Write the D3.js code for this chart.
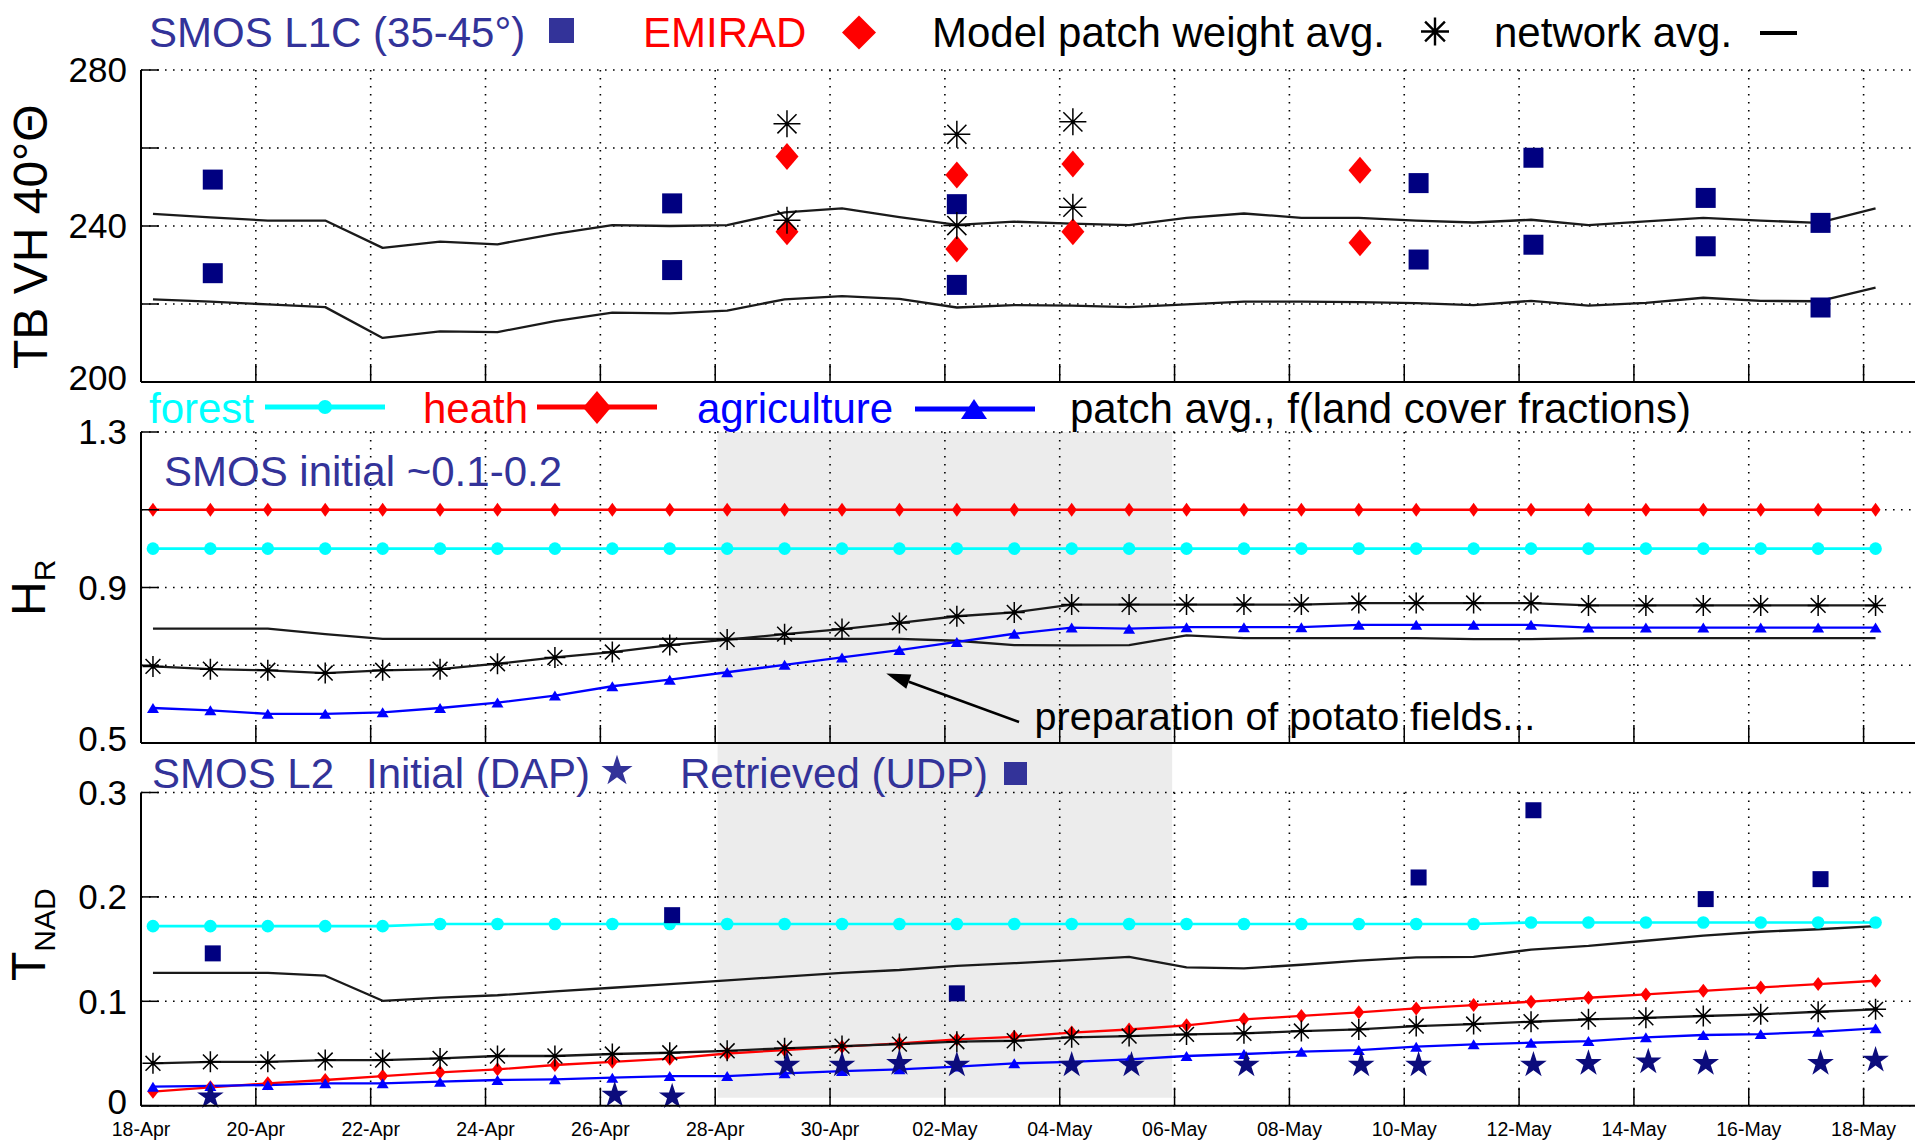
<!DOCTYPE html>
<html>
<head>
<meta charset="utf-8">
<script src="https://cdn.jsdelivr.net/npm/d3@7"></script>
<style>
  html, body { margin: 0; padding: 0; background: #fff; overflow: hidden; }
  svg { display: block; }
  text { font-family: "Liberation Sans", Arial, Helvetica, sans-serif; }
</style>
</head>
<body>
<svg id="chart" width="1915" height="1140"></svg>
<script>
// ---------------------------------------------------------------
// Data
// ---------------------------------------------------------------
// Daily model/network samples (taken at 05:00 each day)
const dailyDates = [
  "2010-04-18","2010-04-19","2010-04-20","2010-04-21","2010-04-22","2010-04-23",
  "2010-04-24","2010-04-25","2010-04-26","2010-04-27","2010-04-28","2010-04-29",
  "2010-04-30","2010-05-01","2010-05-02","2010-05-03","2010-05-04","2010-05-05",
  "2010-05-06","2010-05-07","2010-05-08","2010-05-09","2010-05-10","2010-05-11",
  "2010-05-12","2010-05-13","2010-05-14","2010-05-15","2010-05-16","2010-05-17",
  "2010-05-18"
];
const dailyHour = "05:00";

// x-axis tick dates
const xTickDates = [
  "2010-04-18","2010-04-20","2010-04-22","2010-04-24","2010-04-26","2010-04-28",
  "2010-04-30","2010-05-02","2010-05-04","2010-05-06","2010-05-08","2010-05-10",
  "2010-05-12","2010-05-14","2010-05-16","2010-05-18"
];

// Panel 1: TB VH 40° [K]
const tbNetHigh = [243.1,242.2,241.4,241.4,234.4,236.0,235.3,238.0,240.2,240.0,240.2,
  243.5,244.5,242.3,240.3,241.1,240.6,240.2,242.1,243.2,242.1,242.1,241.4,240.9,241.6,
  240.2,241.2,242.1,241.4,240.8,244.5];
const tbNetLow = [221.2,220.6,219.9,219.2,211.3,213.0,212.8,215.6,217.8,217.6,218.3,
  221.2,222.0,221.3,219.1,219.7,219.6,219.2,219.9,220.6,220.6,220.5,220.2,219.7,220.8,
  219.6,220.3,221.6,220.8,220.7,224.2];

const smosL1CDates = ["2010-04-19 06:00","2010-04-27 06:00","2010-05-02 05:00",
  "2010-05-10 06:00","2010-05-12 06:00","2010-05-15 06:00","2010-05-17 06:00"];
const smosL1CHigh = [251.9, 245.8, 245.6, 251.0, 257.5, 247.2, 240.8];
const smosL1CLow  = [227.9, 228.7, 224.9, 231.4, 235.2, 234.8, 219.1];

const emiradDates = ["2010-04-29 06:00","2010-05-02 05:00","2010-05-04 05:30","2010-05-09 05:30"];
const emiradHigh = [257.8, 253.1, 255.9, 254.3];
const emiradLow  = [238.5, 234.1, 238.5, 235.7];

const modelPatchDates = ["2010-04-29 06:00","2010-05-02 05:00","2010-05-04 05:30"];
const modelPatchHigh = [266.2, 263.5, 266.7];
const modelPatchLow  = [241.5, 240.1, 244.8];

// Panel 2: H_R
const forestHR = [1.0,1.0,1.0,1.0,1.0,1.0,1.0,1.0,1.0,1.0,1.0,1.0,1.0,1.0,1.0,1.0,
  1.0,1.0,1.0,1.0,1.0,1.0,1.0,1.0,1.0,1.0,1.0,1.0,1.0,1.0,1.0];
const heathHR = [1.1,1.1,1.1,1.1,1.1,1.1,1.1,1.1,1.1,1.1,1.1,1.1,1.1,1.1,1.1,1.1,
  1.1,1.1,1.1,1.1,1.1,1.1,1.1,1.1,1.1,1.1,1.1,1.1,1.1,1.1,1.1];
const agriHR = [0.590,0.584,0.575,0.575,0.579,0.590,0.604,0.622,0.646,0.663,0.682,
  0.701,0.720,0.739,0.760,0.781,0.797,0.794,0.798,0.798,0.798,0.804,0.804,0.804,0.804,
  0.797,0.797,0.797,0.797,0.797,0.797];
const patchHR = [0.697,0.690,0.687,0.680,0.687,0.690,0.704,0.720,0.734,0.752,0.766,
  0.780,0.793,0.809,0.826,0.836,0.856,0.856,0.856,0.856,0.856,0.860,0.860,0.860,0.860,
  0.854,0.854,0.854,0.854,0.854,0.854];
const netHR = [0.794,0.794,0.794,0.780,0.768,0.768,0.768,0.768,0.768,0.768,0.768,
  0.768,0.768,0.768,0.763,0.752,0.751,0.752,0.777,0.770,0.770,0.770,0.770,0.767,0.767,
  0.770,0.770,0.770,0.770,0.770,0.770];

// Panel 3: T_NAD
const forestT = [0.172,0.172,0.172,0.172,0.172,0.174,0.174,0.174,0.174,0.174,0.174,
  0.174,0.174,0.174,0.174,0.174,0.174,0.174,0.174,0.174,0.174,0.174,0.174,0.174,0.1755,
  0.1755,0.1755,0.1755,0.1755,0.1755,0.1755];
const heathT = [0.0134,0.0176,0.0214,0.0246,0.0284,0.032,0.0348,0.039,0.042,0.045,
  0.050,0.0533,0.0565,0.0597,0.0635,0.066,0.070,0.073,0.077,0.0827,0.086,0.0894,0.0932,
  0.0964,0.0996,0.1034,0.1066,0.110,0.1133,0.1165,0.1197];
const agriT = [0.0182,0.0189,0.0198,0.0214,0.0214,0.023,0.0246,0.0253,0.0268,0.0284,
  0.0284,0.031,0.0332,0.0348,0.0375,0.0406,0.042,0.0444,0.0476,0.0495,0.0517,0.0533,
  0.0565,0.0588,0.0603,0.0619,0.0655,0.0677,0.0686,0.0708,0.0741];
const patchT = [0.0406,0.042,0.042,0.0437,0.0437,0.0453,0.0476,0.0476,0.0495,0.0507,
  0.0526,0.055,0.0571,0.059,0.0613,0.0622,0.0655,0.0667,0.0683,0.0693,0.0715,0.0731,
  0.0763,0.0782,0.0804,0.0827,0.0842,0.0859,0.0875,0.090,0.0923];
const netT = [0.1273,0.1273,0.1273,0.1245,0.1005,0.1035,0.1058,0.1095,0.113,0.1165,
  0.120,0.1237,0.1273,0.130,0.134,0.1365,0.1395,0.1426,0.1325,0.1315,0.135,0.139,0.142,
  0.1426,0.1495,0.153,0.158,0.163,0.1666,0.169,0.172];

const udpDates = ["2010-04-19 06:00","2010-04-27 06:00","2010-05-02 05:00",
  "2010-05-10 06:00","2010-05-12 06:00","2010-05-15 06:00","2010-05-17 06:00"];
const udpTau = [0.1459, 0.1825, 0.1076, 0.2186, 0.283, 0.1979, 0.217];

const dapDates = ["2010-04-19 05:00","2010-04-26 06:00","2010-04-27 06:00",
  "2010-04-29 06:00","2010-04-30 05:00","2010-05-01 05:00","2010-05-02 05:00",
  "2010-05-04 05:00","2010-05-05 06:00","2010-05-07 06:00","2010-05-09 06:00",
  "2010-05-10 06:00","2010-05-12 06:00","2010-05-13 05:00","2010-05-14 06:00",
  "2010-05-15 06:00","2010-05-17 06:00","2010-05-18 05:00"];
const dapTau = [0.0086,0.0102,0.0086,0.039,0.039,0.0406,0.039,0.039,0.039,0.039,
  0.039,0.039,0.039,0.0406,0.042,0.0406,0.0406,0.0437];

// Potato-field preparation period (shaded) and its annotation
const shadeStart = "2010-04-28 01:00";
const shadeEnd   = "2010-05-05 23:00";
const arrowFrom = ["2010-05-03 07:00", 0.554];
const arrowTo   = ["2010-04-30 23:30", 0.679];
const annotationAt = ["2010-05-03 13:30", 0.533];

// ---------------------------------------------------------------
// Scales
// ---------------------------------------------------------------
const parse = d3.timeParse("%Y-%m-%d %H:%M");
const daily = dailyDates.map(d => parse(d + " " + dailyHour));

const x = d3.scaleTime()
  .domain([parse("2010-04-18 00:00"), parse("2010-05-19 00:00")])
  .range([141, 141 + 31 * 57.42]);

const xLeft = 141, xRight = 1915;

const y1 = d3.scaleLinear().domain([200, 280]).range([382, 70]);
const y2 = d3.scaleLinear().domain([0.5, 1.3]).range([743, 432]);
const y3 = d3.scaleLinear().domain([0, 0.3]).range([1105.7, 792.5]);

const panels = [
  { y: y1, ticks: [200, 220, 240, 260, 280], labels: [200, 240, 280], fmt: d => String(d), showDates: false },
  { y: y2, ticks: [0.5, 0.7, 0.9, 1.1, 1.3], labels: [0.5, 0.9, 1.3], fmt: d => d.toFixed(1), showDates: false },
  { y: y3, ticks: [0, 0.1, 0.2, 0.3], labels: [0, 0.1, 0.2, 0.3], fmt: d => d === 0 ? "0" : d.toFixed(1), showDates: true }
];

const svg = d3.select("#chart");
const xTicks = xTickDates.map(d => parse(d + " 00:00"));

// colours
const CYAN = "#00ffff", RED = "#ff0000", BLUE = "#0000ff", NAVY = "#000080",
      LEGNAVY = "#333399", BLACK = "#000000";

// ---------------------------------------------------------------
// Shaded period (spans panels 2 and 3)
// ---------------------------------------------------------------
svg.append("rect")
  .attr("x", x(parse(shadeStart)))
  .attr("y", y2.range()[1])
  .attr("width", x(parse(shadeEnd)) - x(parse(shadeStart)))
  .attr("height", y3.range()[0] - 8 - y2.range()[1])
  .attr("fill", "#ececec");

// ---------------------------------------------------------------
// Dotted grid for each panel
// ---------------------------------------------------------------
panels.forEach(p => {
  const [yb, yt] = p.y.range();
  const g = svg.append("g");
  g.selectAll("line.hg").data(p.ticks).join("line")
    .attr("x1", xLeft).attr("x2", xRight)
    .attr("y1", d => p.y(d)).attr("y2", d => p.y(d))
    .attr("stroke", "#000").attr("stroke-width", 1.6)
    .attr("stroke-dasharray", "1.6,6.4");
  g.selectAll("line.vg").data(xTicks.slice(1)).join("line")
    .attr("x1", d => x(d)).attr("x2", d => x(d))
    .attr("y1", yt).attr("y2", yb)
    .attr("stroke", "#000").attr("stroke-width", 1.6)
    .attr("stroke-dasharray", "1.6,6.4");
});

function drawAxes(p) {
  const [yb, yt] = p.y.range();
  const g = svg.append("g");
  // left and bottom axis lines
  g.append("line").attr("x1", xLeft).attr("x2", xLeft).attr("y1", yt).attr("y2", yb)
    .attr("stroke", "#000").attr("stroke-width", 2);
  g.append("line").attr("x1", xLeft).attr("x2", xRight).attr("y1", yb).attr("y2", yb)
    .attr("stroke", "#000").attr("stroke-width", 2);
  // inward ticks
  g.selectAll("line.xt").data(xTicks).join("line")
    .attr("x1", d => x(d)).attr("x2", d => x(d))
    .attr("y1", yb).attr("y2", yb - 18)
    .attr("stroke", "#000").attr("stroke-width", 1.5);
  g.selectAll("line.yt").data(p.ticks).join("line")
    .attr("x1", xLeft).attr("x2", xLeft + 18)
    .attr("y1", d => p.y(d)).attr("y2", d => p.y(d))
    .attr("stroke", "#000").attr("stroke-width", 1.5);
  // y tick labels (the bottom label sits a little above the axis line)
  g.selectAll("text.yl").data(p.labels).join("text")
    .attr("x", 127).attr("y", d => p.y(d) - (d === p.y.domain()[0] ? 4 : 0)).attr("dy", "0.35em")
    .attr("text-anchor", "end").attr("font-size", 35).attr("fill", "#000")
    .text(p.fmt);
  if (p.showDates) {
    const fmt = d3.timeFormat("%d-%b");
    g.selectAll("text.xl").data(xTicks).join("text")
      .attr("x", d => x(d)).attr("y", 1136)
      .attr("text-anchor", "middle").attr("font-size", 19.5).attr("fill", "#000")
      .text(fmt);
  }
}

// ---------------------------------------------------------------
// Marker helpers
// ---------------------------------------------------------------
function asteriskPath(h) {
  const d = h * 0.707;
  return `M${-h},0H${h}M0,${-h}V${h}M${-d},${-d}L${d},${d}M${-d},${d}L${d},${-d}`;
}
function diamondPath(w, h) {
  return `M0,${-h / 2}L${w / 2},0L0,${h / 2}L${-w / 2},0Z`;
}
function trianglePath(w, h) {
  return `M0,${-h / 2}L${w / 2},${h / 2}L${-w / 2},${h / 2}Z`;
}
function asterisks(g, pts, h, dotR) {
  const sel = g.selectAll(null).data(pts).join("g")
    .attr("transform", d => `translate(${d[0]},${d[1]})`);
  sel.append("path").attr("d", asteriskPath(h))
    .attr("stroke", BLACK).attr("stroke-width", 1.5).attr("fill", "none");
  sel.append("circle").attr("r", dotR).attr("fill", BLACK);
}
function pathMarks(g, pts, d, fill) {
  g.selectAll(null).data(pts).join("path")
    .attr("transform", p => `translate(${p[0]},${p[1]})`)
    .attr("d", d).attr("fill", fill);
}
function series(values, y) {
  return values.map((v, i) => [x(daily[i]), y(v)]);
}
const lineGen = d3.line();
function drawLine(g, pts, color, w) {
  g.append("path").attr("d", lineGen(pts))
    .attr("fill", "none").attr("stroke", color).attr("stroke-width", w)
    .attr("stroke-linejoin", "round");
}

// ---------------------------------------------------------------
// Panel 1: brightness temperatures
// ---------------------------------------------------------------
{
  const g = svg.append("g");
  drawLine(g, series(tbNetHigh, y1), "#1a1a1a", 2.3);
  drawLine(g, series(tbNetLow, y1), "#1a1a1a", 2.3);

  const sq = 20;
  const l1c = smosL1CDates.flatMap((d, i) => [
    [x(parse(d)), y1(smosL1CHigh[i])], [x(parse(d)), y1(smosL1CLow[i])]
  ]);
  g.selectAll(null).data(l1c).join("rect")
    .attr("x", d => d[0] - sq / 2).attr("y", d => d[1] - sq / 2)
    .attr("width", sq).attr("height", sq).attr("fill", NAVY);

  const em = emiradDates.flatMap((d, i) => [
    [x(parse(d)), y1(emiradHigh[i])], [x(parse(d)), y1(emiradLow[i])]
  ]);
  pathMarks(g, em, diamondPath(23, 27), RED);

  const mp = modelPatchDates.flatMap((d, i) => [
    [x(parse(d)), y1(modelPatchHigh[i])], [x(parse(d)), y1(modelPatchLow[i])]
  ]);
  asterisks(g, mp, 13.5, 2);
  drawAxes(panels[0]);
}

// ---------------------------------------------------------------
// Panel 2: roughness H_R
// ---------------------------------------------------------------
{
  const g = svg.append("g");
  const f = series(forestHR, y2), h = series(heathHR, y2),
        a = series(agriHR, y2), p = series(patchHR, y2), n = series(netHR, y2);
  drawLine(g, n, "#1a1a1a", 2.3);
  drawLine(g, h, RED, 2.3);
  drawLine(g, f, CYAN, 2.6);
  drawLine(g, a, BLUE, 2.3);
  drawLine(g, p, "#1a1a1a", 2.3);
  pathMarks(g, h, diamondPath(10, 14), RED);
  g.selectAll(null).data(f).join("circle")
    .attr("cx", d => d[0]).attr("cy", d => d[1]).attr("r", 6.3).attr("fill", CYAN);
  pathMarks(g, a, trianglePath(12, 10), BLUE);
  asterisks(g, p, 10.5, 2.3);

  // annotation arrow
  const ax0 = x(parse(arrowFrom[0])), ay0 = y2(arrowFrom[1]);
  const ax1 = x(parse(arrowTo[0])), ay1 = y2(arrowTo[1]);
  const ang = Math.atan2(ay1 - ay0, ax1 - ax0);
  const L = 24, W = 7.5;
  const bx = ax1 - L * Math.cos(ang), by = ay1 - L * Math.sin(ang);
  g.append("line").attr("x1", ax0).attr("y1", ay0).attr("x2", bx).attr("y2", by)
    .attr("stroke", "#000").attr("stroke-width", 2.6);
  g.append("path")
    .attr("d", `M${ax1},${ay1}L${bx + W * Math.sin(ang)},${by - W * Math.cos(ang)}L${bx - W * Math.sin(ang)},${by + W * Math.cos(ang)}Z`)
    .attr("fill", "#000");
  g.append("text")
    .attr("x", x(parse(annotationAt[0]))).attr("y", y2(annotationAt[1]))
    .attr("font-size", 39.5).attr("fill", "#000")
    .text("preparation of potato fields...");
  drawAxes(panels[1]);
}

// ---------------------------------------------------------------
// Panel 3: nadir optical depth T_NAD
// ---------------------------------------------------------------
{
  const g = svg.append("g");
  const f = series(forestT, y3), h = series(heathT, y3),
        a = series(agriT, y3), p = series(patchT, y3), n = series(netT, y3);
  drawLine(g, n, "#1a1a1a", 2.3);
  drawLine(g, f, CYAN, 2.6);
  drawLine(g, h, RED, 2.3);
  drawLine(g, p, "#1a1a1a", 2.3);
  drawLine(g, a, BLUE, 2.3);
  g.selectAll(null).data(f).join("circle")
    .attr("cx", d => d[0]).attr("cy", d => d[1]).attr("r", 6.3).attr("fill", CYAN);
  pathMarks(g, h, diamondPath(11, 14), RED);
  pathMarks(g, a, trianglePath(12, 10), BLUE);
  asterisks(g, p, 10.5, 2.3);

  const star = d3.symbol().type(d3.symbolStar).size(220)();
  const dap = dapDates.map((d, i) => [x(parse(d)), y3(dapTau[i])]);
  pathMarks(g, dap, star, "#0c0c7c");

  const sq = 16;
  const udp = udpDates.map((d, i) => [x(parse(d)), y3(udpTau[i])]);
  g.selectAll(null).data(udp).join("rect")
    .attr("x", d => d[0] - sq / 2).attr("y", d => d[1] - sq / 2)
    .attr("width", sq).attr("height", sq).attr("fill", NAVY);
  drawAxes(panels[2]);
}

// ---------------------------------------------------------------
// Legends and titles
// ---------------------------------------------------------------
const leg = svg.append("g").attr("font-size", 42);
function txt(xp, yp, s, color) {
  return leg.append("text").attr("x", xp).attr("y", yp).attr("fill", color).text(s);
}

// top legend row
txt(149, 46.5, "SMOS L1C (35-45°)", LEGNAVY);
leg.append("rect").attr("x", 549).attr("y", 18).attr("width", 25).attr("height", 25).attr("fill", LEGNAVY);
txt(643, 46.5, "EMIRAD", RED);
leg.append("path").attr("transform", "translate(859,32.5)").attr("d", diamondPath(34, 34)).attr("fill", RED);
txt(932, 46.5, "Model patch weight avg.", BLACK);
leg.append("path").attr("transform", "translate(1435,31.5)").attr("d", asteriskPath(14))
  .attr("stroke", BLACK).attr("stroke-width", 2.4).attr("fill", "none");
txt(1494, 46.5, "network avg.", BLACK);
leg.append("line").attr("x1", 1760).attr("x2", 1797).attr("y1", 33).attr("y2", 33)
  .attr("stroke", BLACK).attr("stroke-width", 4);

// middle legend row
txt(149, 423, "forest", CYAN);
leg.append("line").attr("x1", 265).attr("x2", 385).attr("y1", 407).attr("y2", 407)
  .attr("stroke", CYAN).attr("stroke-width", 5);
leg.append("circle").attr("cx", 325).attr("cy", 407).attr("r", 7).attr("fill", CYAN);
txt(423, 423, "heath", RED);
leg.append("line").attr("x1", 537).attr("x2", 657).attr("y1", 407).attr("y2", 407)
  .attr("stroke", RED).attr("stroke-width", 5);
leg.append("path").attr("transform", "translate(597,407.5)").attr("d", diamondPath(28, 33)).attr("fill", RED);
txt(697, 423, "agriculture", BLUE);
leg.append("line").attr("x1", 915).attr("x2", 1035).attr("y1", 409).attr("y2", 409)
  .attr("stroke", BLUE).attr("stroke-width", 5);
leg.append("path").attr("transform", "translate(974,409)").attr("d", trianglePath(26, 20)).attr("fill", BLUE);
txt(1070, 423, "patch avg., f(land cover fractions)", BLACK);

txt(164, 486, "SMOS initial ~0.1-0.2", LEGNAVY);

// bottom legend row
txt(152, 788, "SMOS L2", LEGNAVY);
txt(366, 788, "Initial (DAP)", LEGNAVY);
leg.append("path").attr("transform", "translate(617,771)")
  .attr("d", d3.symbol().type(d3.symbolStar).size(300)()).attr("fill", LEGNAVY);
txt(680, 788, "Retrieved (UDP)", LEGNAVY);
leg.append("rect").attr("x", 1004).attr("y", 762).attr("width", 23).attr("height", 23).attr("fill", LEGNAVY);

// y-axis titles
svg.append("text")
  .attr("transform", "translate(47,236.7) rotate(-90)")
  .attr("text-anchor", "middle").attr("font-size", 48).attr("fill", "#000")
  .text("TB VH 40°Θ");

const hr = svg.append("text")
  .attr("transform", "translate(45,616) rotate(-90)")
  .attr("font-size", 48).attr("fill", "#000");
hr.append("tspan").text("H");
hr.append("tspan").attr("font-size", 30).attr("dy", 10).text("R");

const tn = svg.append("text")
  .attr("transform", "translate(45,981) rotate(-90)")
  .attr("font-size", 48).attr("fill", "#000");
tn.append("tspan").text("T");
tn.append("tspan").attr("font-size", 30).attr("dy", 10).text("NAD");
</script>
</body>
</html>
